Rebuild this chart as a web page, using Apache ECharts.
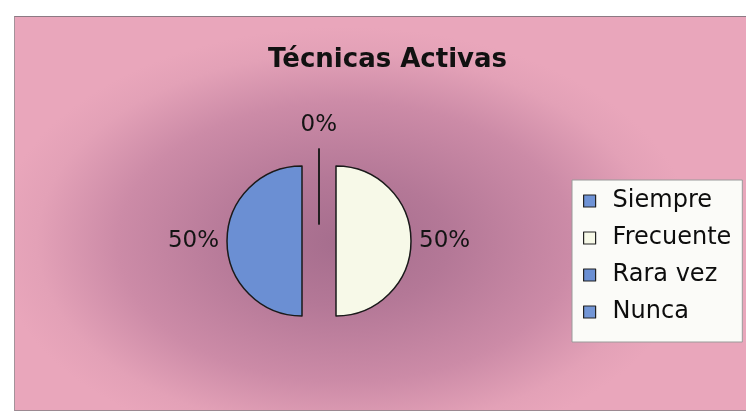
<!DOCTYPE html>
<html>
<head>
<meta charset="utf-8">
<script src="https://cdn.jsdelivr.net/npm/echarts@6/dist/echarts.min.js"></script>
<style>
html, body { margin: 0; padding: 0; background: #ffffff; }
#wrap { position: relative; width: 746px; height: 413px; overflow: hidden; }
#panel {
  position: absolute; left: 14px; top: 16px; width: 740px; height: 393px;
  border-top: 1px solid #8c7a84; border-left: 1px solid #a4929a; border-bottom: 1px solid #9c8a92;
  background: radial-gradient(ellipse 350px 215px at 330px 225px, #a56d8d 0%, #b47897 30%, #cc8ba7 65%, #e3a1b7 88%, #e9a6bb 100%);
}
#main { position: absolute; left: 0; top: 0; width: 746px; height: 413px; }
</style>
</head>
<body>
<div id="wrap">
  <div id="panel"></div>
  <div id="main"></div>
</div>
<script>
// datos del gráfico
var categories = ['Siempre', 'Frecuente', 'Rara vez', 'Nunca'];
var values = [0, 50, 50, 0];
var colors = ['#6f93d6', '#f7f9e8', '#6b8fd3', '#7396d6'];

var myChart = echarts.init(document.getElementById('main'));

var pieData = [];
for (var i = 0; i < categories.length; i++) {
  var item = {
    name: categories[i],
    value: values[i],
    selected: true,
    itemStyle: { color: colors[i] }
  };
  // la porción de 0% queda arriba, su etiqueta centrada sobre la línea
  if (i === 0) {
    item.label = { distanceToLabelLine: -18 };
    item.labelLine = { length: 24, length2: 0 };
  }
  if (i === categories.length - 1) {
    item.label = { show: false };
  }
  pieData.push(item);
}

var option = {
  animation: false,
  backgroundColor: 'transparent',
  title: {
    text: 'Técnicas Activas',
    left: 263,
    top: 42,
    textStyle: {
      fontFamily: 'DejaVu Sans',
      fontWeight: 'bold',
      fontSize: 26,
      color: '#111'
    }
  },
  legend: {
    orient: 'vertical',
    left: 572,
    top: 180,
    padding: [9, 11, 18, 11],
    itemGap: 13,
    itemWidth: 12,
    itemHeight: 12,
    icon: 'rect',
    backgroundColor: '#fbfbf8',
    borderColor: '#9a9a9a',
    borderWidth: 1,
    data: categories,
    itemStyle: { borderColor: '#222', borderWidth: 1.2 },
    textStyle: {
      fontFamily: 'DejaVu Sans',
      fontSize: 24,
      color: '#0d0d0d',
      padding: [0, 0, 0, 12]
    }
  },
  series: [
    {
      type: 'pie',
      center: [319, 241],
      radius: 75,
      startAngle: 90,
      clockwise: true,
      selectedMode: 'multiple',
      selectedOffset: 17,
      avoidLabelOverlap: false,
      silent: true,
      itemStyle: {
        borderColor: '#1a1a1a',
        borderWidth: 1.5
      },
      label: {
        show: true,
        position: 'outside',
        formatter: '{d}%',
        fontFamily: 'DejaVu Sans',
        fontSize: 23,
        color: '#141414',
        distanceToLabelLine: 5
      },
      labelLine: { show: false, length: 3, length2: 0 },
      data: pieData
    }
  ]
};

myChart.setOption(option);
</script>
</body>
</html>
